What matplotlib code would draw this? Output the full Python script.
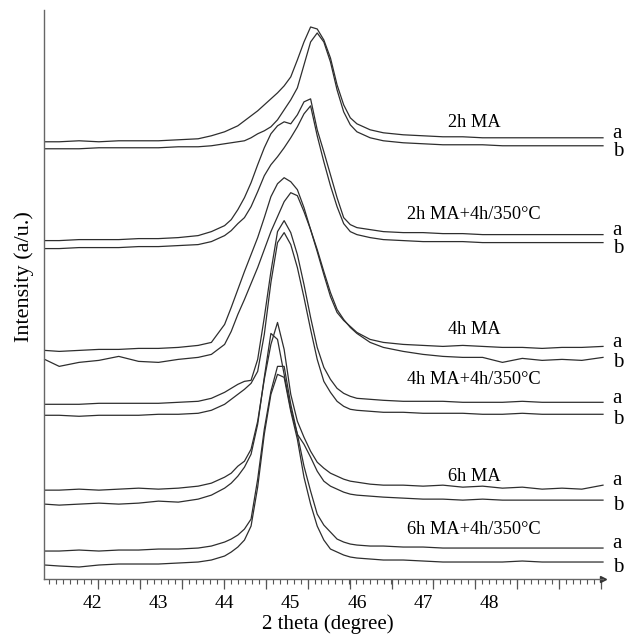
import matplotlib
matplotlib.use("Agg")
import matplotlib.pyplot as plt
import numpy as np

# 2 theta grid (degree)
two_theta = [41.28, 41.5, 41.8, 42.1, 42.4, 42.7, 43.0, 43.3, 43.6, 43.8,
             44.0, 44.1, 44.2, 44.3, 44.4, 44.5, 44.6, 44.7, 44.8, 44.9,
             45.0, 45.1, 45.2, 45.3, 45.4, 45.5, 45.6, 45.7, 45.8, 45.9,
             46.0, 46.2, 46.4, 46.7, 47.0, 47.3, 47.6, 47.9, 48.2, 48.5,
             48.8, 49.1, 49.4, 49.72]

# intensities (a.u., stacked), curve a and b of every sample
ma2_a = [438, 438, 439, 438, 439, 439, 439, 440, 441, 444, 448, 451, 454, 459, 464, 469, 475, 481, 487, 494,
         503, 520, 538, 553, 551, 540, 522, 495, 475, 462, 456, 450, 447, 445, 444, 443, 443, 442, 442, 442,
         442, 442, 442, 442]
ma2_b = [431, 431, 431, 432, 432, 432, 432, 433, 433, 434, 436, 437, 438, 439, 442, 446, 449, 453, 460, 470,
         480, 492, 515, 538, 547, 538, 518, 490, 468, 455, 448, 442, 439, 437, 436, 435, 435, 435, 434, 434,
         434, 434, 434, 434]
ma2_ht_a = [339, 339, 340, 340, 340, 341, 341, 342, 344, 348, 354, 360, 370, 382, 397, 415, 432, 446, 454, 458,
            456, 465, 478, 481, 450, 428, 405, 382, 362, 355, 352, 350, 348, 347, 347, 346, 346, 345, 345, 345,
            345, 345, 345, 345]
ma2_ht_b = [331, 331, 332, 332, 332, 333, 333, 334, 335, 338, 344, 349, 356, 362, 373, 388, 404, 415, 423, 432,
            442, 453, 466, 474, 444, 418, 394, 373, 356, 348, 345, 342, 340, 339, 338, 338, 338, 337, 337, 337,
            337, 337, 337, 337]
ma4_a = [229, 228, 229, 230, 230, 231, 231, 232, 234, 237, 255, 272, 290, 308, 325, 342, 362, 383, 396, 402,
         398, 390, 372, 350, 328, 305, 283, 267, 259, 253, 247, 240, 237, 235, 234, 233, 234, 233, 232, 232,
         231, 232, 232, 233]
ma4_b = [220, 213, 217, 219, 223, 218, 217, 220, 222, 225, 235, 248, 265, 280, 296, 312, 330, 348, 363, 378,
         387, 384, 368, 350, 330, 308, 287, 270, 260, 252, 246, 237, 232, 228, 225, 223, 222, 222, 217, 221,
         219, 220, 219, 222]
ma4_ht_a = [175, 175, 175, 176, 176, 176, 176, 177, 178, 181, 187, 191, 195, 198, 199, 220, 262, 308, 348, 359,
            347, 325, 295, 262, 232, 212, 200, 191, 186, 183, 181, 180, 179, 178, 178, 178, 177, 177, 177, 178,
            177, 177, 177, 177]
ma4_ht_b = [164, 164, 163, 164, 164, 164, 165, 165, 166, 169, 175, 180, 185, 190, 196, 208, 245, 297, 337, 347,
            335, 312, 282, 250, 220, 198, 187, 178, 173, 170, 169, 168, 167, 167, 166, 166, 166, 165, 165, 166,
            165, 165, 165, 165]
ma6_a = [89, 89, 90, 89, 90, 91, 90, 91, 93, 96, 102, 106, 113, 118, 130, 158, 200, 235, 257, 230,
         185, 158, 142, 128, 117, 111, 106, 103, 100, 98, 97, 95, 94, 94, 93, 94, 92, 93, 91, 92,
         90, 91, 90, 94]
ma6_b = [75, 74, 75, 76, 75, 76, 78, 77, 80, 84, 91, 96, 103, 112, 125, 155, 202, 246, 240, 205,
         170, 145, 135, 122, 108, 98, 93, 90, 87, 85, 84, 83, 82, 81, 80, 80, 79, 80, 79, 79,
         79, 79, 79, 79]
ma6_ht_a = [28, 28, 29, 28, 29, 29, 30, 30, 31, 33, 37, 40, 44, 50, 60, 100, 150, 188, 213, 213,
            175, 145, 113, 88, 65, 54, 47, 40, 37, 35, 34, 33, 33, 32, 32, 31, 31, 31, 31, 31,
            31, 31, 31, 31]
ma6_ht_b = [14, 13, 12, 14, 15, 15, 15, 16, 17, 19, 23, 27, 32, 39, 53, 92, 145, 185, 205, 202,
            168, 140, 102, 75, 53, 39, 30, 27, 24, 22, 21, 20, 19, 19, 18, 17, 17, 17, 17, 18,
            17, 17, 17, 17]

samples = ["2h MA", "2h MA+4h/350\u00b0C", "4h MA", "4h MA+4h/350\u00b0C",
           "6h MA", "6h MA+4h/350\u00b0C"]
curves_a = [ma2_a, ma2_ht_a, ma4_a, ma4_ht_a, ma6_a, ma6_ht_a]
curves_b = [ma2_b, ma2_ht_b, ma4_b, ma4_ht_b, ma6_b, ma6_ht_b]
label_y = [457, 365, 250, 200, 103, 50]

tick_labels = [42, 43, 44, 45, 46, 47, 48]

plt.rcParams['font.family'] = ['Liberation Serif', 'DejaVu Serif']

fig = plt.figure(figsize=(6.25, 6.38), dpi=100)
ax = fig.add_axes([0.0704, 0.0925, 0.8944, 0.8918])

line_col = '#2e2e2e'
for ya, yb in zip(curves_a, curves_b):
    ax.plot(two_theta, ya, color=line_col, lw=0.9, clip_on=False)
    ax.plot(two_theta, yb, color=line_col, lw=0.9, clip_on=False)
    ax.annotate('a', xy=(two_theta[-1], ya[-1]), xytext=(7, 3), textcoords='offset points',
                ha='left', va='center', fontsize=15)
    ax.annotate('b', xy=(two_theta[-1], yb[-1]), xytext=(7, -4), textcoords='offset points',
                ha='left', va='center', fontsize=15)

for name, ly in zip(samples, label_y):
    ax.text(47.77, ly, name, ha='center', va='center', fontsize=13.2)

ax.set_xlim(41.27, 49.72)
ax.set_ylim(0, 570)

# axis look: only left and bottom, ticks below the axis
for s in ['top', 'right']:
    ax.spines[s].set_visible(False)
for s in ['left', 'bottom']:
    ax.spines[s].set_color('#666666')
    ax.spines[s].set_linewidth(1.0)
ax.set_yticks([])

long_ticks = np.linspace(42.09, 49.69, 13)
short_ticks = np.arange(41.35, 49.72, 0.1055)
ax.set_xticks(long_ticks)
ax.set_xticks(short_ticks, minor=True)
ax.tick_params(axis='x', which='major', direction='out', length=7, width=0.9,
               color='#555555', labelbottom=False)
ax.tick_params(axis='x', which='minor', direction='out', length=3.5, width=0.8,
               color='#555555')

sec = ax.secondary_xaxis('bottom')
sec.set_xticks(tick_labels)
sec.set_xticklabels([str(t) for t in tick_labels])
sec.tick_params(length=0, pad=11.5, labelsize=14)
sec.spines['bottom'].set_visible(False)

ax.plot(1, 0, marker='>', ms=4, color='#333333', transform=ax.transAxes, clip_on=False)

fig.text(328 / 625, 1 - 624 / 638, '2 theta (degree)', ha='center', va='center', fontsize=15)
fig.text(24 / 625, 1 - 277 / 638, 'Intensity (a/u.)', ha='center', va='center',
         rotation=90, fontsize=16)

fig.savefig('out.png', dpi=100)
